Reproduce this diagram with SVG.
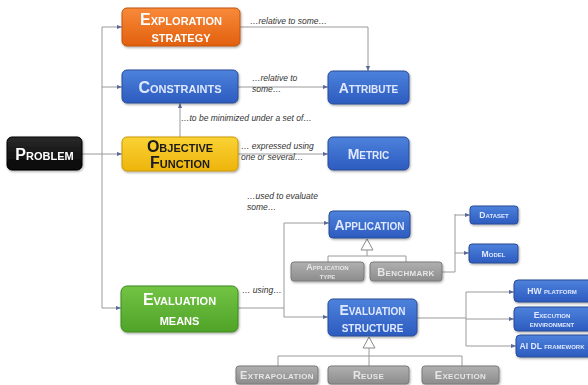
<svg xmlns="http://www.w3.org/2000/svg" width="588" height="385" viewBox="0 0 588 385">
<style>
.c{fill:none;stroke:#9a9a9a;stroke-width:1}
.lb{font-family:"Liberation Sans",Arial,sans-serif;font-style:italic;font-size:8.5px;fill:#333}
.t{font-family:"Liberation Sans",Arial,sans-serif;font-weight:bold;font-variant:small-caps;text-anchor:middle}
.big{font-size:16px}
.med{font-size:14px}
.sm{font-size:8.6px}
.gs{font-size:11px;letter-spacing:0.3px}
.gt{font-size:9px}
.w{fill:#fff}
.lw{fill:#dfe8ff}
.g{fill:#e6e6e6}
.blue{fill:url(#gb);stroke:#2b4b94;stroke-width:1}
.gray{fill:url(#gg);stroke:#7a7a7a;stroke-width:1}
</style>
<defs>
<linearGradient id="go" x1="0" y1="0" x2="0" y2="1"><stop offset="0" stop-color="#f88a3a"/><stop offset="1" stop-color="#e2600e"/></linearGradient>
<linearGradient id="gb" x1="0" y1="0" x2="0" y2="1"><stop offset="0" stop-color="#4d82dc"/><stop offset="1" stop-color="#2c5bbf"/></linearGradient>
<linearGradient id="gy" x1="0" y1="0" x2="0" y2="1"><stop offset="0" stop-color="#fad335"/><stop offset="1" stop-color="#eeb40c"/></linearGradient>
<linearGradient id="ggr" x1="0" y1="0" x2="0" y2="1"><stop offset="0" stop-color="#72c443"/><stop offset="1" stop-color="#4fa328"/></linearGradient>
<linearGradient id="gk" x1="0" y1="0" x2="0" y2="1"><stop offset="0" stop-color="#2a2a2a"/><stop offset="1" stop-color="#050505"/></linearGradient>
<linearGradient id="gg" x1="0" y1="0" x2="0" y2="1"><stop offset="0" stop-color="#b0b0b0"/><stop offset="1" stop-color="#8c8c8c"/></linearGradient>
<marker id="a" viewBox="0 0 6 6" refX="6" refY="3" markerWidth="5" markerHeight="5" orient="auto"><path d="M0,0.5 L6,3 L0,5.5 z" fill="#5a6a9a"/></marker>
<filter id="sh" x="-10%" y="-10%" width="120%" height="130%"><feDropShadow dx="0.8" dy="1.2" stdDeviation="0.8" flood-color="#000" flood-opacity="0.35"/></filter>
</defs>

<g id="connectors">
<path class="c" d="M82,154 H102 M102,27 V308"/>
<path class="c" d="M102,27 H122" marker-end="url(#a)"/>
<path class="c" d="M102,87 H122" marker-end="url(#a)"/>
<path class="c" d="M102,154 H122" marker-end="url(#a)"/>
<path class="c" d="M102,308 H121" marker-end="url(#a)"/>
<path class="c" d="M240,27 H368 V71" marker-end="url(#a)"/>
<path class="c" d="M238,87 H328" marker-end="url(#a)"/>
<path class="c" d="M180,137 V103" marker-end="url(#a)"/>
<path class="c" d="M238,154 H328" marker-end="url(#a)"/>
<path class="c" d="M238,308 H284 M284,223 V317"/>
<path class="c" d="M284,223 H329" marker-end="url(#a)"/>
<path class="c" d="M284,317 H328" marker-end="url(#a)"/>
<path class="c" d="M367,250 V256 M328,262 V256 H406 V262"/>
<path fill="#fff" stroke="#8a8a8a" stroke-width="1" d="M367,239 L373,250 L361,250 z"/>
<path class="c" d="M442,272 H455 M455,214 V272"/>
<path class="c" d="M455,215 H470" marker-end="url(#a)"/>
<path class="c" d="M455,253 H469" marker-end="url(#a)"/>
<path class="c" d="M417,318 H466 M466,292 V346"/>
<path class="c" d="M466,292 H514" marker-end="url(#a)"/>
<path class="c" d="M466,319 H514" marker-end="url(#a)"/>
<path class="c" d="M466,346 H516" marker-end="url(#a)"/>
<path class="c" d="M369,348 V356 M278,366 V356 H462 V366 M369,356 V366"/>
<path fill="#fff" stroke="#8a8a8a" stroke-width="1" d="M369,337 L375,348 L363,348 z"/>
</g>

<g id="labels">
<text class="lb" x="250" y="24">…relative to some…</text>
<text class="lb" x="252" y="81">…relative to</text>
<text class="lb" x="252" y="92">some…</text>
<text class="lb" x="181" y="121">…to be minimized under a set of…</text>
<text class="lb" x="241" y="149">… expressed using</text>
<text class="lb" x="241" y="160">one or several…</text>
<text class="lb" x="247" y="199">…used to evaluate</text>
<text class="lb" x="247" y="210">some…</text>
<text class="lb" x="242" y="293">… using…</text>
</g>

<g id="problem" filter="url(#sh)">
<rect x="7" y="137" width="75" height="33" rx="5" fill="url(#gk)" stroke="#000"/>
<text class="t big w" x="44.5" y="159.5">Problem</text>
</g>
<g id="exploration" filter="url(#sh)">
<rect x="122" y="8" width="118" height="38" rx="5" fill="url(#go)" stroke="#c0550e"/>
<text class="t big w" x="181" y="25">Exploration</text>
<text class="t big w" x="181" y="42">strategy</text>
</g>
<g id="constraints" filter="url(#sh)">
<rect x="122" y="70" width="116" height="33" rx="5" class="blue"/>
<text class="t big lw" x="180" y="92.5">Constraints</text>
</g>
<g id="objective" filter="url(#sh)">
<rect x="122" y="137" width="116" height="34" rx="5" fill="url(#gy)" stroke="#c9980a"/>
<text class="t big" fill="#1a1a1a" x="180" y="151.5">Objective</text>
<text class="t big" fill="#1a1a1a" x="180" y="168">Function</text>
</g>
<g id="evalmeans" filter="url(#sh)">
<rect x="121" y="286" width="117" height="46" rx="6" fill="url(#ggr)" stroke="#3f8a20"/>
<text class="t big w" x="179.5" y="305">Evaluation</text>
<text class="t big w" x="179.5" y="325">means</text>
</g>
<g id="attribute" filter="url(#sh)">
<rect x="328" y="71" width="81" height="33" rx="5" class="blue"/>
<text class="t med lw" x="368.5" y="92.5">Attribute</text>
</g>
<g id="metric" filter="url(#sh)">
<rect x="328" y="137" width="81" height="33" rx="5" class="blue"/>
<text class="t med lw" x="368.5" y="158.5">Metric</text>
</g>
<g id="application" filter="url(#sh)">
<rect x="329" y="211" width="81" height="27" rx="4" class="blue"/>
<text class="t med lw" x="369.5" y="229.5">Application</text>
</g>
<g id="apptype" filter="url(#sh)">
<rect x="291" y="262" width="73" height="19" rx="3" class="gray"/>
<text class="t gt g" x="327.5" y="270">Application</text>
<text class="t gt g" x="327.5" y="279">type</text>
</g>
<g id="benchmark" filter="url(#sh)">
<rect x="370" y="262" width="72" height="19" rx="3" class="gray"/>
<text class="t gs g" x="406" y="275.5">Benchmark</text>
</g>
<g id="dataset" filter="url(#sh)">
<rect x="470" y="206" width="48" height="18" rx="3" class="blue"/>
<text class="t sm lw" x="494" y="218">Dataset</text>
</g>
<g id="model" filter="url(#sh)">
<rect x="469" y="244" width="49" height="19" rx="3" class="blue"/>
<text class="t sm lw" x="493.5" y="256.5">Model</text>
</g>
<g id="evalstructure" filter="url(#sh)">
<rect x="328" y="299" width="89" height="37" rx="5" class="blue"/>
<text class="t med lw" x="372.5" y="314.5">Evaluation</text>
<text class="t med lw" x="372.5" y="331.5">structure</text>
</g>
<g id="hwplatform" filter="url(#sh)">
<rect x="514" y="280" width="78" height="22" rx="4" class="blue"/>
<text class="t sm lw" x="552" y="294">HW platform</text>
</g>
<g id="execenv" filter="url(#sh)">
<rect x="514" y="307" width="78" height="24" rx="4" class="blue"/>
<text class="t sm lw" x="552" y="317.5">Execution</text>
<text class="t sm lw" x="552" y="326.5">environment</text>
</g>
<g id="aidl" filter="url(#sh)">
<rect x="516" y="335" width="76" height="22" rx="4" class="blue"/>
<text class="t sm lw" x="552" y="349">AI DL framework</text>
</g>
<g id="extrapolation" filter="url(#sh)">
<rect x="236" y="366" width="82" height="18" rx="3" class="gray"/>
<text class="t gs g" x="277" y="378.5">Extrapolation</text>
</g>
<g id="reuse" filter="url(#sh)">
<rect x="328" y="366" width="81" height="18" rx="3" class="gray"/>
<text class="t gs g" x="368.5" y="378.5">Reuse</text>
</g>
<g id="execution" filter="url(#sh)">
<rect x="422" y="366" width="77" height="18" rx="3" class="gray"/>
<text class="t gs g" x="460.5" y="378.5">Execution</text>
</g>
</svg>
